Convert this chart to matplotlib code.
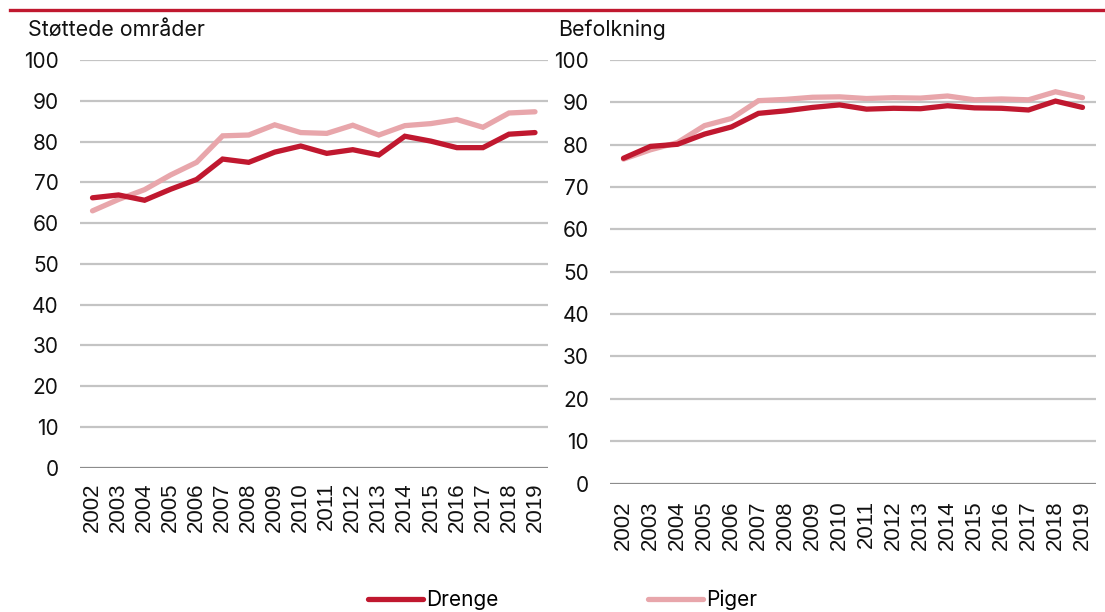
import numpy as np
import matplotlib.pyplot as plt
from matplotlib.lines import Line2D

years = [str(y) for y in range(2002, 2020)]

# Støttede områder
drenge_st = [66.2, 66.9, 65.6, 68.3, 70.7, 75.7, 74.9, 77.4, 78.9, 77.1,
             78.0, 76.7, 81.3, 80.1, 78.5, 78.5, 81.8, 82.2]
piger_st = [63.0, 65.8, 68.2, 71.8, 74.9, 81.4, 81.6, 84.1, 82.2, 82.0,
            84.0, 81.6, 83.9, 84.4, 85.4, 83.5, 87.0, 87.3]

# Befolkning
drenge_bf = [76.8, 79.6, 80.1, 82.5, 84.2, 87.4, 88.0, 88.8, 89.4, 88.4,
             88.6, 88.5, 89.2, 88.7, 88.6, 88.2, 90.3, 88.8]
piger_bf = [76.6, 78.8, 80.5, 84.5, 86.2, 90.4, 90.7, 91.2, 91.3, 90.9,
            91.1, 91.0, 91.5, 90.6, 90.8, 90.6, 92.5, 91.1]

yticks = list(range(0, 101, 10))

RED = '#C0182F'
PINK = '#E8A6AB'
GRID = '#C4C4C4'
ZERO = '#8C8C8C'

plt.rcParams['font.family'] = ['Inter', 'DejaVu Sans']

W, H = 1105, 612
fig = plt.figure(figsize=(W / 100, H / 100), dpi=100)

ax1 = fig.add_axes([79.5 / W, 1 - 467.7 / H, 468.5 / W, 407.7 / H])
ax2 = fig.add_axes([610 / W, 1 - 483.5 / H, 486 / W, 423.5 / H])

for ax, d, p, title, tx in [(ax1, drenge_st, piger_st, 'Støttede områder', 28),
                            (ax2, drenge_bf, piger_bf, 'Befolkning', 558)]:
    x = np.arange(len(years))
    for t in yticks:
        ax.axhline(t, color=ZERO if t == 0 else GRID, lw=1.6, zorder=1)
    ax.plot(x, d, color=RED, lw=3.8, solid_capstyle='round', solid_joinstyle='miter', zorder=3)
    ax.plot(x, p, color=PINK, lw=3.8, solid_capstyle='round', solid_joinstyle='miter', zorder=2)
    ax.set_xlim(-0.5, len(years) - 0.5)
    ax.set_ylim(0, 100)
    ax.set_yticks(yticks)
    ax.set_yticklabels([str(t) for t in yticks], fontsize=15)
    ax.set_xticks(x)
    ax.set_xticklabels(years, rotation=90, fontsize=16, family='Liberation Sans')
    ax.tick_params(axis='both', length=0, colors='#111111')
    ax.tick_params(axis='y', pad=15)
    ax.tick_params(axis='x', pad=10.5 if ax is ax1 else 12)
    for s in ax.spines.values():
        s.set_visible(False)
    ax.set_facecolor('none')
    fig.text(tx / W, 1 - 30 / H, title, fontsize=15.4, va='center', ha='left', color='#111111')

# top red rule
fig.add_artist(Line2D([10 / W, 1], [1 - 10 / H, 1 - 10 / H], color=RED, lw=2.4))

for label, col, lx in [('Drenge', RED, 368), ('Piger', PINK, 648)]:
    h = Line2D([], [], color=col, lw=3.8, solid_capstyle='round')
    fig.legend([h], [label], loc='center left', bbox_to_anchor=(lx / W, 1 - 600 / H),
               frameon=False, fontsize=15, handlelength=2.65, handletextpad=0.15,
               borderpad=0, borderaxespad=0)

fig.savefig('out.png', dpi=100)
